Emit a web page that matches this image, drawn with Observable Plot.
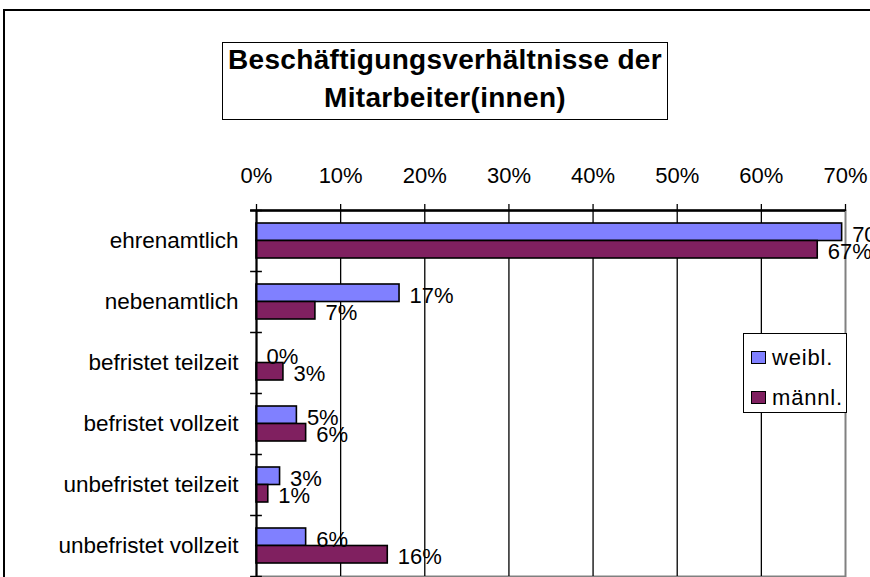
<!DOCTYPE html>
<html>
<head>
<meta charset="utf-8">
<script src="https://cdn.jsdelivr.net/npm/d3@7"></script>
<script src="https://cdn.jsdelivr.net/npm/@observablehq/plot@0.6"></script>
<style>
  html, body { margin: 0; padding: 0; background: #fff; }
  #wrap { position: relative; width: 870px; height: 577px; overflow: hidden; font-family: Arial, "Liberation Sans", sans-serif; }
  #outer { position: absolute; left: 3px; top: 9px; width: 1000px; height: 1000px; border-left: 2px solid #000; border-top: 2px solid #000; }
  #chart { position: absolute; left: 0; top: 0; }
  #title { position: absolute; left: 222px; top: 42px; width: 444px; height: 76px; border: 1.5px solid #000; background: #fff;
           font-weight: bold; font-size: 28px; letter-spacing: 0.3px; line-height: 38px; text-align: center; white-space: nowrap; }
  #title span { position: relative; top: -2px; }
  #legend { position: absolute; left: 743px; top: 333px; width: 102px; height: 78px; border: 1.2px solid #000; background: #fff; font-size: 22px; letter-spacing: 0.8px; }
  .item { position: absolute; left: 7px; height: 24px; line-height: 24px; white-space: nowrap; }
  .sw { display: inline-block; width: 13px; height: 11px; border: 1.2px solid #000; vertical-align: middle; margin-right: 6px; position: relative; top: -2px; }
</style>
</head>
<body>
<div id="wrap">
  <div id="outer"></div>
  <div id="chart"></div>
  <div id="title"><span>Beschäftigungsverhältnisse der<br>Mitarbeiter(innen)</span></div>
  <div id="legend"></div>
</div>
<script>
const categories = ["ehrenamtlich", "nebenamtlich", "befristet teilzeit", "befristet vollzeit", "unbefristet teilzeit", "unbefristet vollzeit"];
const weibl  = [69.6, 17.0, 0.0, 4.8, 2.8, 5.9];
const maennl = [66.7, 7.0, 3.2, 5.9, 1.4, 15.6];
const seriesNames = ["weibl.", "männl."];
const seriesColors = ["#8080ff", "#802060"];
const xTicks = [0, 10, 20, 30, 40, 50, 60, 70];

const W = 870, H = 577, mTop = 210, mLeft = 256, mRight = 25, mBottom = 1;
const bw = (H - mTop - mBottom) / categories.length;
const font = "Arial, 'Liberation Sans', sans-serif";

const rowsW = categories.map((c, i) => ({category: c, value: weibl[i]}));
const rowsM = categories.map((c, i) => ({category: c, value: maennl[i]}));
const fmt = v => Math.round(v) + "%";

const chart = Plot.plot({
  width: W, height: H,
  marginTop: mTop, marginLeft: mLeft, marginRight: mRight, marginBottom: mBottom,
  style: {fontFamily: font, background: "transparent", color: "#000"},
  x: {domain: [0, 70], label: null},
  y: {domain: categories, padding: 0, label: null},
  marks: [
    Plot.frame({stroke: "#808080", strokeWidth: 2}),
    Plot.gridX(xTicks.filter(t => t > 0 && t < 70), {stroke: "#000", strokeOpacity: 1, strokeWidth: 1.3}),
    Plot.axisX(xTicks, {anchor: "top", label: null, tickSize: 7, tickPadding: 21, tickFormat: d => d + "%", fontSize: 22, stroke: "#000", strokeWidth: 1.3}),
    Plot.axisY({anchor: "left", label: null, tickSize: 0, tickPadding: 18, fontSize: 22.5, letterSpacing: 1}),
    Plot.barX(rowsW, {x: "value", y: "category", fill: seriesColors[0], stroke: "#000", strokeWidth: 1.6, insetTop: 13, insetBottom: 30.5}),
    Plot.barX(rowsM, {x: "value", y: "category", fill: seriesColors[1], stroke: "#000", strokeWidth: 1.6, insetTop: 30.5, insetBottom: 13}),
    Plot.ruleX([0], {stroke: "#000", strokeWidth: 2}),
    Plot.ruleY([categories[0]], {x1: -0.7, x2: 70, dy: -bw / 2, stroke: "#000", strokeWidth: 2.5}),
    Plot.ruleY(categories, {x1: -0.7, x2: 0.7, dy: -bw / 2, stroke: "#000", strokeWidth: 1.5}),
    Plot.ruleY([categories[categories.length - 1]], {x1: -0.7, x2: 0.7, dy: bw / 2, stroke: "#000", strokeWidth: 1.5}),
    Plot.text(rowsW, {x: "value", y: "category", text: d => fmt(d.value), dx: 10, dy: -6, textAnchor: "start", fontSize: 22, fill: "#000"}),
    Plot.text(rowsM, {x: "value", y: "category", text: d => fmt(d.value), dx: 10, dy: 11, textAnchor: "start", fontSize: 22, fill: "#000"})
  ]
});
document.getElementById("chart").appendChild(chart);

const legend = document.getElementById("legend");
seriesNames.forEach((name, i) => {
  const item = document.createElement("div");
  item.className = "item";
  item.style.top = (12 + i * 40) + "px";
  const sw = document.createElement("span");
  sw.className = "sw";
  sw.style.background = seriesColors[i];
  item.appendChild(sw);
  item.appendChild(document.createTextNode(name));
  legend.appendChild(item);
});
</script>
</body>
</html>
